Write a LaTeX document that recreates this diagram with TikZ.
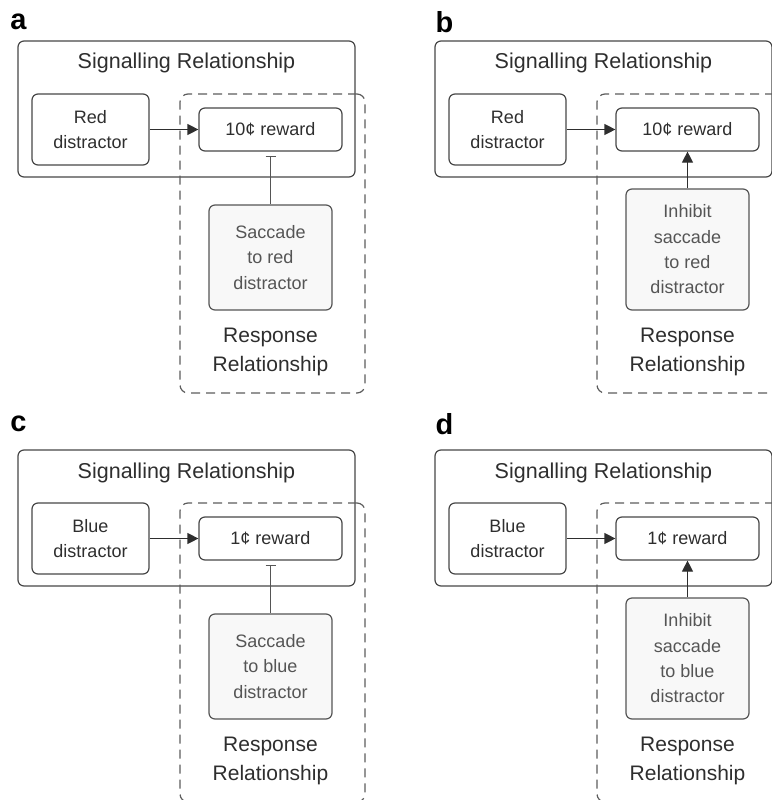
\documentclass[tikz,border=0pt]{standalone}
\usepackage{fontspec}
\setmainfont{Liberation Sans}
\usepackage{xcolor}
\usepackage{tikz}
\usetikzlibrary{arrows.meta}

\definecolor{linegray}{HTML}{474747}
\definecolor{dashgray}{HTML}{5C5C5C}
\definecolor{textgray}{HTML}{2E2E2E}
\definecolor{softgray}{HTML}{555555}
\definecolor{fillgray}{HTML}{F8F8F8}

\tikzset{
  sigbox/.style={draw=linegray, line width=1.2pt, rounded corners=6pt,
    minimum width=337pt, minimum height=136pt, inner sep=0pt},
  respbox/.style={draw=dashgray, line width=1.2pt, rounded corners=8pt,
    dash pattern=on 9pt off 6pt, minimum width=185pt, minimum height=299pt, inner sep=0pt},
  cuebox/.style={draw=linegray, line width=1.2pt, rounded corners=6pt, align=center,
    text=textgray, font=\fontsize{18}{25}\selectfont, minimum width=117pt, minimum height=71pt, inner sep=0pt},
  rewbox/.style={draw=linegray, line width=1.2pt, rounded corners=6pt,
    text=textgray, font=\fontsize{18}{25}\selectfont, minimum width=143pt, minimum height=43pt, inner sep=0pt},
  actbox/.style={draw=softgray, fill=fillgray, line width=1.2pt, rounded corners=6pt, align=center,
    text=softgray, font=\fontsize{18}{25.3}\selectfont, minimum width=123pt, inner sep=0pt},
  title/.style={text=textgray, font=\fontsize{21.5}{28}\selectfont, anchor=base, inner sep=0pt},
  resptitle/.style={text=textgray, font=\fontsize{21}{28.5}\selectfont, align=center, inner sep=0pt},
  panellabel/.style={font=\fontsize{29}{29}\bfseries\selectfont, inner sep=0pt},
  promote/.style={draw=textgray, line width=1.2pt, -{Triangle[length=11pt,width=11pt]}},
  inhibit/.style={draw=softgray, line width=1.2pt, -{Bar[width=10pt,line width=1.5pt]}, shorten >=4pt},
}

\begin{document}
\begin{tikzpicture}[x=1pt,y=-1pt]
    \useasboundingbox (0,0) rectangle (771,800);

    % panel a
    \node[panellabel] (labA) at (18.5,22) {a};
    \node[sigbox] (sigA) at (186.5,109) {};
    \node[title] (sigtA) at (186.5,69) {Signalling Relationship};
    \node[respbox] (dashA) at (272.5,243.5) {};
    \node[cuebox] (cueA) at (90.5,129.5) {Red\\distractor};
    \node[rewbox] (rewA) at (270.5,129.5) {10¢ reward};
    \node[actbox, minimum height=105pt] (actA) at (270.5,257.5) {Saccade\\to red\\distractor};
    \node[resptitle] (resptA) at (270.5,352) {Response\\Relationship};
    \draw[promote] (cueA) -- (rewA);
    \draw[inhibit] (actA) -- (rewA);

    % panel b
    \node[panellabel] (labB) at (444.5,22) {b};
    \node[sigbox] (sigB) at (603.5,109) {};
    \node[title] (sigtB) at (603.5,69) {Signalling Relationship};
    \node[respbox] (dashB) at (689.5,243.5) {};
    \node[cuebox] (cueB) at (507.5,129.5) {Red\\distractor};
    \node[rewbox] (rewB) at (687.5,129.5) {10¢ reward};
    \node[actbox, minimum height=121pt] (actB) at (687.5,249.5) {Inhibit\\saccade\\to red\\distractor};
    \node[resptitle] (resptB) at (687.5,352) {Response\\Relationship};
    \draw[promote] (cueB) -- (rewB);
    \draw[promote] (actB) -- (rewB);

    % panel c
    \node[panellabel] (labC) at (18.5,424) {c};
    \node[sigbox] (sigC) at (186.5,518) {};
    \node[title] (sigtC) at (186.5,478) {Signalling Relationship};
    \node[respbox] (dashC) at (272.5,652.5) {};
    \node[cuebox] (cueC) at (90.5,538.5) {Blue\\distractor};
    \node[rewbox] (rewC) at (270.5,538.5) {1¢ reward};
    \node[actbox, minimum height=105pt] (actC) at (270.5,666.5) {Saccade\\to blue\\distractor};
    \node[resptitle] (resptC) at (270.5,761) {Response\\Relationship};
    \draw[promote] (cueC) -- (rewC);
    \draw[inhibit] (actC) -- (rewC);

    % panel d
    \node[panellabel] (labD) at (444.5,424) {d};
    \node[sigbox] (sigD) at (603.5,518) {};
    \node[title] (sigtD) at (603.5,478) {Signalling Relationship};
    \node[respbox] (dashD) at (689.5,652.5) {};
    \node[cuebox] (cueD) at (507.5,538.5) {Blue\\distractor};
    \node[rewbox] (rewD) at (687.5,538.5) {1¢ reward};
    \node[actbox, minimum height=121pt] (actD) at (687.5,658.5) {Inhibit\\saccade\\to blue\\distractor};
    \node[resptitle] (resptD) at (687.5,761) {Response\\Relationship};
    \draw[promote] (cueD) -- (rewD);
    \draw[promote] (actD) -- (rewD);
\end{tikzpicture}
\end{document}
